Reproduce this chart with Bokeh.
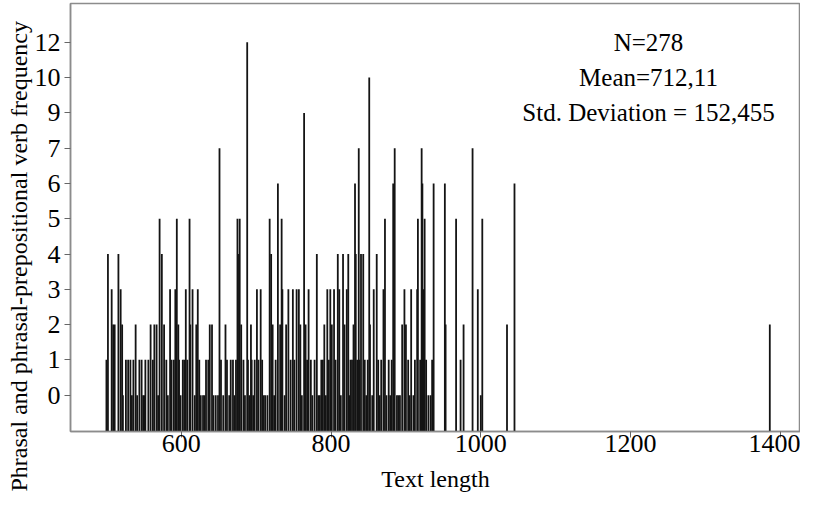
from bokeh.plotting import figure
from bokeh.models import Range1d, FixedTicker, Label, Title
from bokeh.embed import file_html
from bokeh.resources import INLINE

# ---- data ----
text_length = [
    500, 502, 507, 509, 511, 516, 519, 521, 522, 526, 529, 532, 534, 536, 539, 541, 544, 547,
    549, 551, 552, 556, 559, 562, 564, 567, 569, 571, 574, 577, 580, 582, 585, 587, 590, 592,
    594, 596, 597, 599, 602, 604, 606, 608, 611, 612, 615, 618, 620, 622, 624, 626, 629, 631,
    633, 636, 638, 641, 643, 646, 649, 651, 653, 656, 659, 661, 664, 666, 669, 671, 673, 675,
    677, 678, 680, 683, 685, 688, 689, 691, 693, 694, 696, 698, 701, 703, 706, 708, 710, 712,
    715, 718, 720, 722, 724, 726, 729, 732, 734, 735, 738, 740, 743, 746, 749, 751, 754, 757,
    759, 761, 764, 766, 768, 770, 773, 775, 778, 781, 783, 785, 787, 789, 791, 793, 795, 797,
    799, 801, 804, 806, 809, 811, 813, 816, 818, 821, 823, 825, 826, 828, 830, 832, 833, 835,
    837, 838, 840, 843, 845, 847, 849, 851, 852, 855, 857, 861, 863, 865, 867, 870, 872, 874,
    877, 879, 881, 883, 885, 888, 890, 892, 895, 898, 900, 903, 905, 907, 910, 912, 915, 916,
    919, 921, 922, 924, 925, 927, 930, 933, 935, 937, 952, 953, 967, 973, 977, 989, 996, 1000,
    1002, 1035, 1045, 1386,
]
verb_freq = [
    1, 4, 3, 2, 2, 4, 3, 2, 0, 1, 1, 1, 0, 1, 2, 0, 1, 1,
    0, 0, 1, 1, 2, 1, 2, 2, 0, 5, 4, 2, 1, 0, 3, 1, 1, 3,
    5, 2, 1, 0, 1, 1, 3, 1, 5, 2, 3, 0, 2, 3, 1, 0, 0, 0,
    1, 1, 2, 2, 0, 0, 0, 7, 1, 0, 2, 1, 0, 1, 1, 0, 1, 5,
    4, 5, 2, 1, 0, 12, 1, 0, 2, 1, 0, 1, 3, 1, 3, 1, 0, 0,
    0, 5, 4, 2, 0, 1, 6, 2, 5, 3, 0, 2, 3, 1, 3, 1, 3, 3,
    2, 0, 9, 2, 1, 3, 1, 0, 1, 4, 0, 0, 1, 1, 2, 0, 3, 1,
    3, 2, 3, 1, 4, 3, 0, 4, 2, 3, 4, 0, 1, 1, 2, 6, 4, 1,
    7, 1, 4, 4, 1, 0, 1, 10, 2, 0, 3, 4, 1, 0, 1, 3, 5, 0,
    1, 0, 1, 6, 7, 0, 0, 0, 2, 3, 2, 1, 0, 3, 0, 1, 3, 5,
    1, 7, 6, 3, 5, 1, 0, 0, 1, 6, 6, 2, 5, 1, 2, 7, 3, 0,
    5, 2, 6, 2,
]
y_labels = ["0", "1", "2", "3", "4", "5", "6", "7", "9", "10", "12"]
x_ticks = [600, 800, 1000, 1200, 1400]
stats_lines = ["N=278", "Mean=712,11", "Std. Deviation = 152,455"]
x_title = "Text length"
y_title = "Phrasal and phrasal-prepositional verb frequency"

# ---- layout ----
FONT = "Liberation Serif"
Y_START, Y_END = -1.03, 11.1
level = {lab: i for i, lab in enumerate(y_labels)}
y_pos = [level[str(v)] for v in verb_freq]

p = figure(width=800, height=494, output_backend="svg", toolbar_location=None,
           x_range=Range1d(452, 1427), y_range=Range1d(Y_START, Y_END))
p.min_border_left = 70
p.min_border_right = 0
p.min_border_top = 3
p.min_border_bottom = 63

p.segment(x0=text_length, y0=[Y_START] * len(text_length), x1=text_length, y1=y_pos,
          line_color="#141414", line_width=1.8)

p.xgrid.visible = False
p.ygrid.visible = False
p.outline_line_color = "#8c8c8c"
p.outline_line_width = 1.5

p.xaxis.ticker = FixedTicker(ticks=x_ticks)
p.yaxis.ticker = FixedTicker(ticks=list(range(len(y_labels))))
p.yaxis.major_label_overrides = {i: lab for i, lab in enumerate(y_labels)}

for ax in (p.xaxis[0], p.yaxis[0]):
    ax.axis_line_color = "#8c8c8c"
    ax.axis_line_width = 1.5
    ax.major_tick_line_color = "#666666"
    ax.major_tick_in = 0
    ax.major_tick_out = 6
    ax.minor_tick_line_color = None
    ax.major_label_text_font = FONT
    ax.major_label_text_font_size = "26px"
    ax.major_label_text_color = "black"
    ax.axis_label_text_font = FONT
    ax.axis_label_text_font_size = "24px"
    ax.axis_label_text_font_style = "normal"
    ax.axis_label_text_color = "black"

p.xaxis.axis_label = x_title
p.xaxis.major_label_standoff = -3
p.xaxis.axis_label_standoff = 11
p.yaxis.major_label_standoff = 4

# y title as a left-side title, starting below the frame like the reference
p.add_layout(Title(text=y_title, align="left", offset=-60, text_font=FONT,
                   text_font_size="24px", text_font_style="normal",
                   text_color="black", standoff=0), "left")

for i, line in enumerate(stats_lines):
    p.add_layout(Label(x=1224, y=10 - i, text=line, text_align="center",
                       text_baseline="middle", text_font=FONT,
                       text_font_size="25px", text_color="black"))

open("out.html", "w").write(file_html(p, INLINE))
